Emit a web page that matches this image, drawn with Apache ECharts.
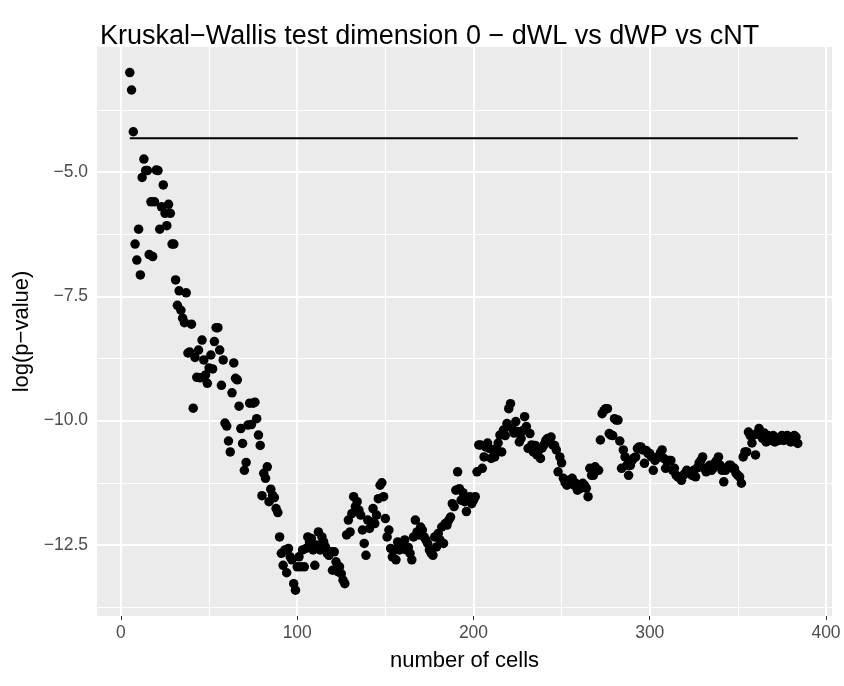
<!DOCTYPE html>
<html>
<head>
<meta charset="utf-8">
<title>Kruskal-Wallis test dimension 0</title>
<script src="https://cdn.jsdelivr.net/npm/echarts@6/dist/echarts.min.js"></script>
<style>
  html, body { margin: 0; padding: 0; background: #fff; }
  #chart { width: 844px; height: 686px; }
</style>
</head>
<body>
<div id="chart"></div>
<script>
// log(p-value) for number of cells 5, 6, 7, ... 384
var firstCell = 5;
var logP = [
  -3.0, -3.35, -4.19, -6.45, -6.77, -6.15, -7.07, -5.11, -4.74, -4.97,
  -4.97, -6.66, -5.6, -6.7, -5.6, -4.96, -4.97, -6.15, -5.7, -5.26,
  -5.83, -6.08, -5.65, -5.83, -6.45, -6.45, -7.17, -7.68, -7.39, -7.78,
  -7.94, -8.03, -7.43, -8.64, -8.62, -8.06, -9.75, -8.73, -9.13, -8.58,
  -9.14, -8.38, -8.78, -9.08, -9.25, -8.94, -8.68, -8.96, -8.41, -8.13,
  -8.13, -8.58, -9.29, -8.78, -10.05, -10.11, -10.41, -10.63, -9.44, -8.84,
  -9.15, -9.18, -9.71, -10.16, -10.46, -11.0, -10.84, -10.09, -9.65, -10.08,
  -9.65, -9.63, -9.96, -10.29, -10.5, -11.51, -11.06, -11.16, -10.93, -11.63,
  -11.38, -11.5, -11.55, -11.77, -11.85, -12.34, -12.67, -12.91, -12.6, -13.06,
  -12.57, -12.74, -12.8, -13.28, -13.41, -12.94, -12.74, -12.94, -12.6, -12.94,
  -12.57, -12.34, -12.45, -12.37, -12.6, -12.91, -12.5, -12.24, -12.6, -12.34,
  -12.44, -12.54, -12.67, -12.71, -12.64, -13.01, -12.64, -12.84, -13.04, -12.94,
  -13.08, -13.21, -13.28, -12.3, -12.0, -12.24, -11.87, -11.53, -11.73, -11.63,
  -11.8, -11.9, -12.2, -12.47, -12.71, -12.0, -12.17, -12.04, -11.77, -12.07,
  -11.9, -11.57, -11.3, -11.25, -11.53, -11.97, -12.34, -12.2, -12.57, -12.74,
  -12.6, -12.8, -12.44, -12.6, -12.5, -12.47, -12.4, -12.6, -12.55, -12.67,
  -12.8, -12.34, -12.0, -12.24, -12.3, -12.14, -12.2, -12.34, -12.4, -12.47,
  -12.6, -12.67, -12.71, -12.34, -12.54, -12.27, -12.4, -12.14, -12.47, -12.07,
  -12.1, -12.0, -11.94, -11.67, -11.73, -11.4, -11.03, -11.37, -11.6, -11.45,
  -11.63, -11.83, -11.6, -11.53, -11.67, -11.6, -11.53, -11.03, -10.49, -10.49,
  -10.96, -10.73, -10.53, -10.45, -10.56, -10.76, -10.59, -10.73, -10.56, -10.45,
  -10.29, -10.63, -10.19, -10.3, -10.06, -9.76, -9.66, -10.16, -10.25, -10.02,
  -10.22, -10.43, -10.36, -10.2, -9.92, -10.12, -10.56, -10.26, -10.49, -10.63,
  -10.5, -10.69, -10.6, -10.76, -10.55, -10.49, -10.4, -10.36, -10.4, -10.33,
  -10.49, -10.5, -10.59, -11.03, -10.73, -10.85, -11.16, -11.25, -11.3, -11.2,
  -11.2, -11.16, -11.3, -11.26, -11.4, -11.33, -11.36, -11.26, -11.3, -11.36,
  -11.53, -10.96, -11.1, -11.1, -10.93, -11.0, -11.0, -10.39, -9.86, -9.8,
  -9.76, -9.76, -10.26, -10.29, -10.3, -9.96, -9.99, -9.99, -10.41, -10.96,
  -10.59, -10.73, -10.9, -11.1, -10.9, -10.8, -10.75, -10.73, -10.56, -10.53,
  -10.53, -10.59, -10.86, -10.6, -10.66, -10.66, -10.73, -11.0, -10.8, -10.75,
  -10.73, -10.65, -10.59, -10.76, -10.96, -10.83, -10.8, -10.8, -11.0, -10.96,
  -11.1, -11.13, -11.15, -11.2, -11.1, -11.06, -11.0, -11.05, -11.03, -11.1,
  -11.0, -11.13, -10.95, -10.85, -10.8, -10.73, -10.96, -11.03, -10.95, -10.9,
  -11.0, -10.96, -10.85, -10.8, -10.73, -10.9, -11.0, -11.23, -11.0, -10.95,
  -10.9, -10.9, -10.96, -10.96, -11.06, -11.1, -11.13, -11.26, -10.73, -10.63,
  -10.63, -10.23, -10.3, -10.45, -10.29, -10.69, -10.25, -10.16, -10.3, -10.36,
  -10.25, -10.43, -10.3, -10.36, -10.4, -10.3, -10.43, -10.35, -10.4, -10.39,
  -10.3, -10.4, -10.36, -10.3, -10.4, -10.43, -10.35, -10.3, -10.33, -10.46
];
var thresholdLine = [[5, -4.32], [384, -4.32]];

var xTicks = [0, 100, 200, 300, 400];
var xMinor = [50, 150, 250, 350];
var yTicks = [-12.5, -10, -7.5, -5];
var yMinor = [-13.75, -11.25, -8.75, -6.25, -3.75];

var points = logP.map(function (v, i) { return [firstCell + i, v]; });

function minus(s) { return String(s).replace("-", "\u2212"); }

// panel grid lines, drawn under the marks
var gridLines = [];
xMinor.forEach(function (v) { gridLines.push({ xAxis: v, lineStyle: { width: 1 } }); });
yMinor.forEach(function (v) { gridLines.push({ yAxis: v, lineStyle: { width: 1 } }); });
xTicks.forEach(function (v) { gridLines.push({ xAxis: v, lineStyle: { width: 2 } }); });
yTicks.forEach(function (v) { gridLines.push({ yAxis: v, lineStyle: { width: 2 } }); });

var font = "Liberation Sans";

var option = {
  animation: false,
  backgroundColor: "#ffffff",
  textStyle: { fontFamily: font },
  title: {
    text: "Kruskal\u2212Wallis test dimension 0 \u2212 dWL vs dWP vs cNT",
    left: 95,
    top: 18,
    textStyle: { fontFamily: font, fontSize: 27, fontWeight: "normal", color: "#000" }
  },
  grid: {
    left: 97,
    right: 12,
    top: 47,
    bottom: 70,
    show: true,
    backgroundColor: "#EBEBEB",
    borderWidth: 0
  },
  xAxis: {
    type: "value",
    min: -13.6,
    max: 403.4,
    name: "number of cells",
    nameLocation: "middle",
    nameGap: 34,
    nameTextStyle: { fontFamily: font, fontSize: 22, color: "#000" },
    axisLine: { show: false },
    splitLine: { show: false },
    axisTick: { show: true, customValues: xTicks, length: 4, lineStyle: { color: "#333", width: 1 } },
    axisLabel: {
      customValues: xTicks, margin: 8,
      fontFamily: font, fontSize: 17.5, color: "#4D4D4D",
      formatter: function (v) { return minus(v); }
    }
  },
  yAxis: {
    type: "value",
    min: -13.93,
    max: -2.485,
    name: "log(p\u2212value)",
    nameLocation: "middle",
    nameGap: 63,
    nameTextStyle: { fontFamily: font, fontSize: 22, color: "#000" },
    axisLine: { show: false },
    splitLine: { show: false },
    axisTick: { show: true, customValues: yTicks, length: 4, lineStyle: { color: "#333", width: 1 } },
    axisLabel: {
      customValues: yTicks, margin: 9,
      fontFamily: font, fontSize: 17.5, color: "#4D4D4D",
      formatter: function (v) { return minus(v.toFixed(1)); }
    }
  },
  series: [
    {
      type: "line",
      data: [],
      silent: true,
      markLine: {
        silent: true,
        symbol: "none",
        label: { show: false },
        lineStyle: { color: "#ffffff", type: "solid" },
        data: gridLines
      }
    },
    {
      type: "line",
      data: thresholdLine,
      symbol: "none",
      silent: true,
      zlevel: 1,
      lineStyle: { color: "#000", width: 2 }
    },
    {
      type: "scatter",
      data: points,
      symbolSize: 9.5,
      silent: true,
      zlevel: 1,
      itemStyle: { color: "#000", opacity: 1 }
    }
  ]
};

var chart = echarts.init(document.getElementById("chart"));
chart.setOption(option);
</script>
</body>
</html>
